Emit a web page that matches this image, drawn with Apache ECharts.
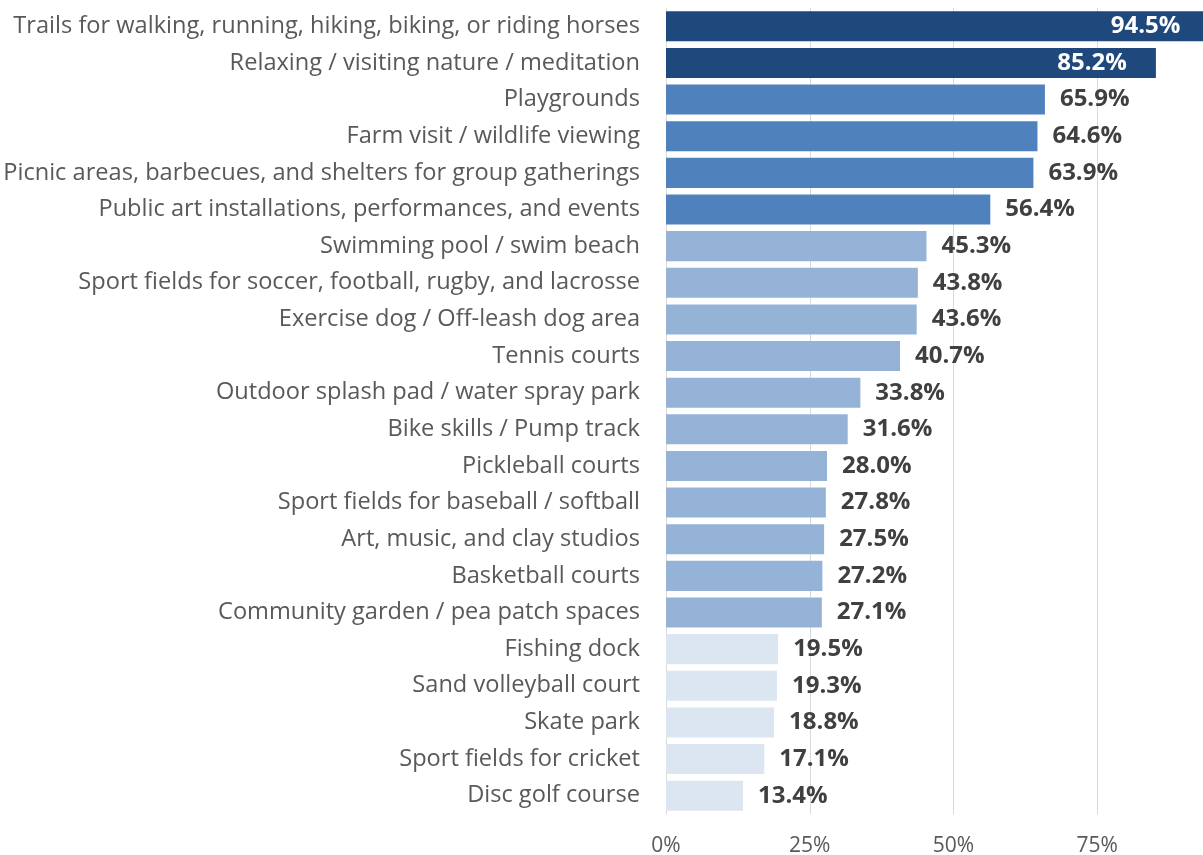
<!DOCTYPE html>
<html>
<head>
<meta charset="utf-8">
<script src="https://cdn.jsdelivr.net/npm/echarts@6/dist/echarts.min.js"></script>
<style>
html,body{margin:0;padding:0;background:#fff;}
#chart{width:1203px;height:855px;}
</style>
</head>
<body>
<div id="chart"></div>
<script>
const categories = [
  "Trails for walking, running, hiking, biking, or riding horses",
  "Relaxing / visiting nature / meditation",
  "Playgrounds",
  "Farm visit / wildlife viewing",
  "Picnic areas, barbecues, and shelters for group gatherings",
  "Public art installations, performances, and events",
  "Swimming pool / swim beach",
  "Sport fields for soccer, football, rugby, and lacrosse",
  "Exercise dog / Off-leash dog area",
  "Tennis courts",
  "Outdoor splash pad / water spray park",
  "Bike skills / Pump track",
  "Pickleball courts",
  "Sport fields for baseball / softball",
  "Art, music, and clay studios",
  "Basketball courts",
  "Community garden / pea patch spaces",
  "Fishing dock",
  "Sand volleyball court",
  "Skate park",
  "Sport fields for cricket",
  "Disc golf course"
];
const values = [94.5, 85.2, 65.9, 64.6, 63.9, 56.4, 45.3, 43.8, 43.6, 40.7, 33.8, 31.6, 28.0, 27.8, 27.5, 27.2, 27.1, 19.5, 19.3, 18.8, 17.1, 13.4];
const tickValues = [0, 25, 50, 75];

function tierColor(v) {
  if (v >= 80) return '#1f497d';
  if (v >= 50) return '#4f81bd';
  if (v >= 25) return '#95b3d7';
  return '#dce6f1';
}

const FONT = '"Open Sans"';
const chart = echarts.init(document.getElementById('chart'), null, {renderer: 'canvas'});
chart.setOption({
  animation: false,
  grid: {left: 666, width: 575, top: 8, bottom: 41, containLabel: false, outerBoundsMode: 'none'},
  xAxis: {
    type: 'value', min: 0, max: 100, interval: 25,
    axisLine: {show: false}, axisTick: {show: false},
    splitLine: {show: true, showMaxLine: false, lineStyle: {color: '#d9d9d9', width: 1}},
    axisLabel: {
      margin: 22, color: '#595959', fontFamily: FONT, fontSize: 21, showMaxLabel: false,
      formatter: function (v) { return tickValues.indexOf(v) >= 0 ? v + '%' : ''; }
    }
  },
  yAxis: {
    type: 'category', data: categories, inverse: true,
    axisLine: {show: true, lineStyle: {color: '#d9d9d9', width: 1}},
    axisTick: {show: false},
    axisLabel: {margin: 26, color: '#595959', fontFamily: FONT, fontSize: 23.6, padding: [4, 0, 0, 0]}
  },
  series: [{
    type: 'bar',
    barCategoryGap: '18%',
    data: values.map(function (v) {
      const inside = v >= 80;
      return {
        value: v,
        itemStyle: {color: tierColor(v)},
        label: inside ? {position: 'insideRight', distance: 29, color: '#ffffff'} : {position: 'right', distance: 15, color: '#404040'}
      };
    }),
    label: {
      show: true, fontFamily: FONT, fontSize: 24, fontWeight: 'bold', padding: [3, 0, 0, 0],
      formatter: function (p) { return p.value.toFixed(1) + '%'; }
    }
  }]
});
</script>
</body>
</html>
